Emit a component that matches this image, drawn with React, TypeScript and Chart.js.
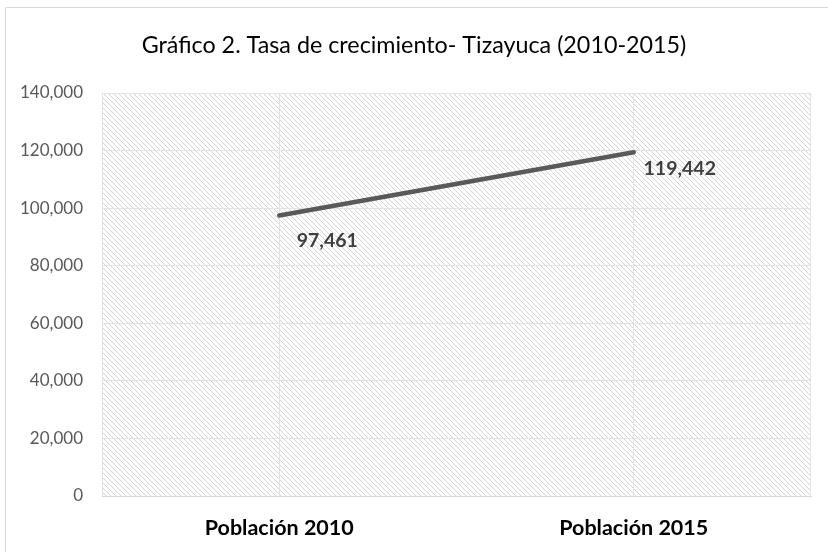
import React, { useEffect, useRef } from "react";
import { Chart, registerables } from "chart.js";

Chart.register(...registerables);

const titleText = "Gráfico 2. Tasa de crecimiento- Tizayuca (2010-2015)";
const categories = ["Población 2010", "Población 2015"];
const population = [97461, 119442];
const yTicks = [0, 20000, 40000, 60000, 80000, 100000, 120000, 140000];

const FONT = "Lato, 'Open Sans', sans-serif";

function makeHatch(): CanvasPattern | string {
  const n = 5;
  const c = document.createElement("canvas");
  c.width = n;
  c.height = n;
  const g = c.getContext("2d");
  if (!g) return "#fff";
  g.fillStyle = "#ffffff";
  g.fillRect(0, 0, n, n);
  g.fillStyle = "#d4d4d4";
  for (let i = 0; i < n; i++) g.fillRect(i, i, 1, 1);
  const p = g.createPattern(c, "repeat");
  return p || "#fff";
}

export default function App() {
  const ref = useRef<HTMLCanvasElement>(null);
  useEffect(() => {
    if (!ref.current) return;
    const hatch = makeHatch();
    const labelOffsets = [
      { dx: 48, dy: 25 },
      { dx: 46, dy: 17 },
    ];
    const deco = {
      id: "deco",
      beforeDraw(chart: any) {
        const { ctx, chartArea: a } = chart;
        ctx.save();
        ctx.fillStyle = "#ffffff";
        ctx.fillRect(0, 0, chart.width, chart.height);
        ctx.strokeStyle = "#d9d9d9";
        ctx.lineWidth = 1;
        ctx.beginPath();
        ctx.moveTo(5.5, chart.height);
        ctx.lineTo(5.5, 7.5);
        ctx.lineTo(chart.width, 7.5);
        ctx.stroke();
        ctx.fillStyle = hatch;
        ctx.fillRect(a.left, a.top, a.right - a.left, a.bottom - a.top);
        ctx.strokeStyle = "#e3e3e3";
        ctx.strokeRect(a.left + 0.5, a.top + 0.5, a.right - a.left - 1, a.bottom - a.top);
        ctx.fillStyle = "#000000";
        ctx.font = `23.3px ${FONT}`;
        ctx.textAlign = "center";
        ctx.textBaseline = "middle";
        ctx.fillText(titleText, 414, 45);
        ctx.restore();
      },
      afterDatasetsDraw(chart: any) {
        const { ctx } = chart;
        const meta = chart.getDatasetMeta(0);
        ctx.save();
        ctx.font = `bold 19.5px ${FONT}`;
        ctx.fillStyle = "#404040";
        ctx.textAlign = "center";
        ctx.textBaseline = "middle";
        meta.data.forEach((pt: any, i: number) => {
          const o = labelOffsets[i];
          ctx.fillText(population[i].toLocaleString("en-US"), pt.x + o.dx, pt.y + o.dy);
        });
        ctx.restore();
      },
    };
    const chart = new Chart(ref.current, {
      type: "line",
      data: {
        labels: categories,
        datasets: [
          {
            data: population,
            borderColor: "#595959",
            borderWidth: 4.5,
            pointRadius: 0,
            fill: false,
            tension: 0,
            borderCapStyle: "round",
          },
        ],
      },
      options: {
        animation: false,
        responsive: false,
        layout: { padding: { top: 93, right: 17, left: 0, bottom: 0 } },
        plugins: { legend: { display: false }, tooltip: { enabled: false } },
        scales: {
          x: {
            offset: true,
            grid: { offset: false, color: "#e3e3e3", drawTicks: false },
            border: { color: "#d9d9d9", width: 1 },
            ticks: { color: "#000000", font: { family: FONT, size: 21.5, weight: "bold" }, padding: 19 },
            afterFit(s: any) {
              s.height = 56;
            },
          },
          y: {
            min: 0,
            max: 140000,
            afterBuildTicks(s: any) {
              s.ticks = yTicks.map((v) => ({ value: v }));
            },
            grid: { color: "#e3e3e3", drawTicks: false },
            border: { display: false },
            ticks: {
              color: "#595959",
              font: { family: FONT, size: 17 },
              padding: 19,
              callback: (v: any) => Number(v).toLocaleString("en-US"),
            },
            afterFit(s: any) {
              s.width = 102;
            },
          },
        },
      },
      plugins: [deco],
    });
    return () => chart.destroy();
  }, []);
  return (
    <div style={{ position: "fixed", left: 0, top: 0, width: 828, height: 552 }}>
      <canvas ref={ref} width={828} height={552} style={{ display: "block" }} />
    </div>
  );
}
